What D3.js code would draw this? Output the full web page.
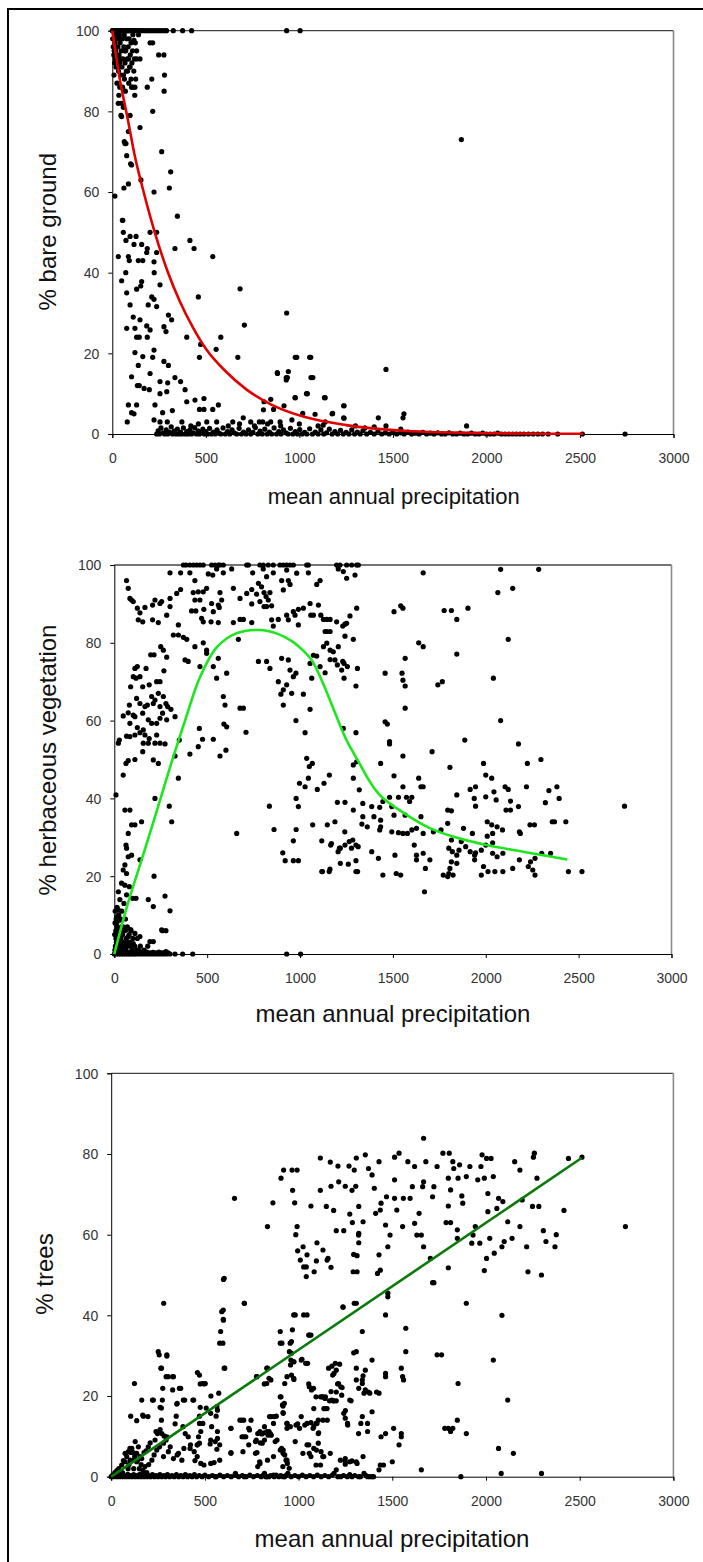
<!DOCTYPE html>
<html><head><meta charset="utf-8">
<script src="https://cdn.jsdelivr.net/npm/d3@7"></script>
<style>html,body{margin:0;padding:0;background:#fff}svg{display:block}</style>
</head><body>
<svg id="c" width="703" height="1562"></svg>
<script>
// ---------- tick labels / titles ----------
const xTicks = [0, 500, 1000, 1500, 2000, 2500, 3000];
const yTicks = [0, 20, 40, 60, 80, 100];
const xTitle = "mean annual precipitation";
const yTitles = ["% bare ground", "% herbaceous vegetation", "% trees"];

// ---------- panel 1: bare ground (precip, %) ----------
const bareTop = [[0,100],[3,100],[6,100],[10,100],[14,100],[18,100],[22,100],[26,100],[30,100],[35,100],[40,100],[45,100],[50,100],[55,100],[60,100],[66,100],[72,100],[78,100],[85,100],[92,100],[100,100],[108,100],[116,100],[125,100],[135,100],[145,100],[155,100],[165,100],[178,100],[190,100],[202,100],[215,100],[228,100],[240,100],[252,100],[265,100],[278,100],[290,100],[326,100],[376,100],[424,100],[932,100],[1004,100]];
const bareCluster = [[2,98],[5,96],[8,94],[12,92],[15,97],[18,95],[20,91],[24,93],[27,98],[30,96],[33,90],[36,94],[40,92],[42,97],[45,89],[48,95],[52,91],[55,98],[58,93],[62,96],[65,88],[68,92],[72,95],[75,90],[80,93],[85,96],[88,87],[92,91],[96,94],[100,88],[105,92],[110,86],[115,90],[120,84],[125,88],[130,93],[9,89],[86,93],[95,91],[116,97.6],[123,97],[130,95],[148,93],[202,97],[216,97],[248,94],[276,94],[279,89],[211,88],[187,86],[103,86],[121,86],[277,85],[216,80],[32,82],[40,86],[50,82],[55,86],[59,81],[46,79],[50,78.7],[95,79],[148,76],[86,75],[64,72.5],[68,72],[73,72],[264,70],[77,69],[98,67],[103,66.7],[312,65],[153,63],[86,62],[62,61],[305,61],[223,60],[14,59],[348,54],[54,53],[25,87],[35,84],[70,85],[60,89],[20,99],[38,99],[64,99],[90,98],[110,99],[140,99],[44,98],[78,98],[100,97],[1866,73],[10,95],[16,93],[28,91],[46,93],[66,95],[82,90],[108,95],[118,93]];
const bareMid = [[56,53],[59,50],[73,48],[95,49],[127,49],[202,50],[237,50],[335,46],[415,48],[437,46],[537,44],[32,44],[86,44],[91,43],[139,43],[163,43],[184,45],[237,45],[223,42.7],[116,47],[157,47],[187,46],[50,38],[72,40],[224,40],[157,37.8],[152,36.7],[130,35.9],[255,37],[460,34],[683,36],[77,35],[211,34],[192,32],[223,33.4],[237,31.6],[300,29.5],[317,28.3],[276,26.6],[287,25.4],[95,32],[112,29],[148,28.3],[184,26.8],[77,26.2],[121,26.2],[202,25.8],[130,24],[144,24],[187,24],[398,24],[706,27],[580,24],[555,21],[671,19],[932,30],[466,19],[472,22.2],[223,20.8],[216,19],[163,19.2],[121,20.2],[139,17],[276,18],[300,17],[202,15],[103,14.2],[335,14],[255,13],[365,13],[296,12.7],[134,12],[144,12],[170,11.3],[198,11],[389,11],[255,10],[291,10.5],[986,19],[1061,19],[1072,14],[941,15.5],[936,14],[883,15],[1043,10],[977,9],[1138,9],[811,8],[847,8.6],[442,8.4],[490,8.8],[398,8],[466,6.1],[490,6.1],[537,6.1],[567,7.2],[86,7.2],[130,7.2],[80,3],[103,5.3],[116,5],[228,7.2],[269,5.3],[321,5.8],[223,3.5],[255,3],[294,3],[372,3],[644,3],[808,6],[862,6.1],[918,7],[1018,5.1],[1084,4.9],[1239,7],[1239,3.9],[1178,5.1],[1138,3],[740,3],[786,3],[804,3],[847,3],[897,3],[558,3],[505,3],[1463,16],[1894,2],[1559,5],[1554,4],[1422,4],[1463,2],[1542,1.2],[1237,7],[1237,4],[1175,5],[1127,2.2],[1134,9],[1062,14],[1055,19],[978,19],[930,14],[930,13.4],[882,15.2],[1038,10],[978,9],[700,4],[760,2],[830,2.5],[900,2],[960,3.5],[1000,2.5],[1100,2],[420,2],[460,2.5],[620,2],[680,2.5],[1300,2],[1350,1.5],[1400,1.8]];
const bareBottom = [[237,0],[245,0.8],[252,0],[260,1.5],[270,0.3],[280,0],[288,1],[296,0],[305,0.5],[315,1.8],[322,0],[330,0.7],[340,0],[348,1.2],[356,0],[365,0.4],[372,0],[380,1.5],[390,0],[398,0.6],[405,0],[415,1],[424,0],[432,0.3],[440,1.6],[450,0],[458,0.8],[466,0],[475,0.4],[484,1.2],[492,0],[500,0.6],[510,0],[520,1.4],[530,0],[540,0.5],[550,0],[560,1],[570,0.2],[580,0],[592,1.5],[604,0],[616,0.6],[628,0],[640,1],[652,0.3],[665,0],[678,1.4],[690,0],[702,0.5],[715,0],[728,1],[740,0],[752,0.4],[765,1.6],[778,0],[790,0.7],[802,0],[815,1.2],[828,0],[840,0.5],[852,0],[865,1.5],[878,0],[890,0.6],[902,0],[915,1],[928,0.3],[940,0],[952,1.4],[965,0],[978,0.6],[990,0],[1002,1.1],[1015,0],[1028,0.4],[1040,0],[1055,1.3],[1070,0],[1085,0.5],[1100,0],[1115,1],[1130,0],[1145,0.3],[1160,1.2],[1175,0],[1190,0.6],[1205,0],[1220,0.9],[1235,0],[1250,0.4],[1265,0],[1280,1],[1295,0],[1310,0.5],[1325,0],[1340,0.8],[1360,0],[1380,0.4],[1400,0],[1420,0.7],[1440,0],[1460,0.3],[1480,0],[1500,0.6],[1520,0],[1540,0.3],[1560,0],[1580,0.5],[1600,0],[1620,0.2],[1640,0],[1660,0.4],[1680,0],[1700,0.2],[1720,0],[1740,0.3],[1760,0],[1780,0],[1800,0.3],[1820,0],[1840,0],[1860,0.2],[1880,0],[1900,0],[1920,0.2],[1940,0],[1960,0],[1980,0.2],[2000,0],[2020,0],[2040,0],[2060,0.2],[2080,0],[2100,0],[2120,0],[2140,0],[2160,0],[2180,0],[2200,0],[2225,0],[2250,0],[2275,0],[2300,0],[2330,0],[2381,0],[2513,0],[2741,0]];
const bareFit = [[0,100],[40,88],[83,78],[120,69],[162,61],[227,50],[298,40],[360,33],[430,26.5],[502,21],[600,15.8],[718,11],[850,7.3],[1030,4.2],[1250,2.2],[1557,0.8],[2000,0.2],[2516,0.05]];

// ---------- panel 2: herbaceous vegetation ----------
const herbTop = [[372,100],[386,100],[407,100],[425,100],[443,100],[461,100],[479,100],[524,100],[542,100],[560,100],[569,100],[587,100],[713,100],[784,100],[802,100],[829,100],[856,100],[892,100],[910,100],[928,100],[946,100],[964,100],[1036,100],[1045,100],[1197,100],[1215,100],[1251,100],[1278,100],[1305,100],[1314,100]];
const herbUpper = [[66,96],[300,98],[357,98],[407,98],[434,96],[506,97.7],[530,97.4],[551,99],[587,98],[632,99],[722,100],[745,98],[802,99],[820,97],[856,98],[901,96],[928,98.7],[937,96],[910,93.6],[946,95],[982,97.9],[1045,98],[1108,96],[1090,95],[1206,99],[1233,98.3],[1251,96.6],[1296,97.4],[776,95.3],[793,94.4],[806,92.9],[817,91.9],[838,92.9],[829,91],[847,89.5],[820,89.3],[784,90.6],[766,92.5],[740,90],[806,89.3],[713,92.7],[740,93.7],[677,91.4],[641,94],[569,92.9],[578,91],[560,89.7],[524,90.1],[497,94],[479,93.1],[452,93.1],[425,92.9],[461,91],[434,91],[416,88.2],[439,88.2],[482,88.6],[533,88],[565,89.1],[470,86.3],[479,85.4],[521,85.4],[560,85.2],[641,85.2],[677,86],[695,86],[740,85.2],[847,85.9],[883,86],[856,84.3],[928,87.1],[937,85.9],[964,88],[991,88.6],[991,84.6],[973,87.1],[1018,88.9],[1054,90.1],[1058,87.1],[1072,87.1],[1099,89.7],[1112,87.1],[1126,86],[1144,86],[1162,86],[1135,82.9],[1144,82.9],[1162,82.9],[1197,85.4],[1230,84.3],[1242,84.8],[1269,86.9],[1305,88.9],[1287,80.9],[246,90.1],[255,90.6],[206,89.7],[219,91],[300,91.4],[300,89.3],[336,92.7],[357,93.7],[124,88.9],[138,87.7],[165,89.1],[129,85.9],[153,85.4],[206,85.9],[237,85.2],[282,87.1],[345,84.6],[318,82],[345,82],[372,81.4],[390,80.9],[434,79],[479,80],[497,78.1],[497,77.3],[381,75.6],[398,75.2],[461,73.9],[533,73.9],[560,76],[551,70.9],[605,72.2],[75,94],[84,91.4],[93,91],[102,90.6],[668,80.9],[776,75.2],[820,75.2],[838,73.4],[901,76],[937,75.6],[946,73],[964,71.3],[978,72.2],[883,70],[928,69.2],[910,67.9],[897,66.8],[955,67],[1018,66.8],[910,64],[1054,62.9],[587,66.2],[596,64],[677,63.2],[695,63.2],[709,57],[590,59.1],[605,58.4],[978,60],[1027,56.9],[1063,70.9],[1054,74.7],[1090,76.6],[1072,76.8],[1108,73.9],[1135,72.3],[1201,74.3],[1224,73],[1237,70.9],[1301,68.9],[1251,85],[1242,81.7],[1179,77.7],[1188,75.6],[1162,75.7],[1126,79],[1144,79.9],[1162,78.1],[1206,79],[1230,75.2],[1237,74.7],[1255,73.9],[1309,73.4],[1036,50.3],[1050,48.2],[1066,49],[1233,58],[1301,56.9],[1305,49.4],[1287,48.6],[569,50.9],[407,51.4],[452,53.3],[475,55.2],[533,55.2],[350,55],[458,58],[601,52.4]];
const herbLeft = [[27,55],[48,61.2],[75,62],[84,59.3],[102,61.4],[81,64],[88,68.7],[102,71.3],[117,70.9],[138,71.3],[153,68.7],[188,69.2],[111,73.4],[124,73.9],[171,73.4],[196,76.9],[214,76.9],[250,79],[264,78.1],[282,76.3],[267,72.8],[228,70],[246,70],[201,66.2],[219,65.3],[237,67],[264,66.2],[278,64.4],[287,63.6],[305,62.9],[327,61],[260,61.9],[246,63.6],[210,64.4],[178,64],[165,63.6],[138,64.4],[120,65.7],[153,61.9],[183,60.2],[201,59.3],[228,59.3],[246,60.6],[282,60.2],[156,57.6],[138,56.9],[165,56.3],[188,55.4],[228,56.3],[219,54.2],[183,54.2],[156,54.2],[111,56.3],[84,55.9],[66,56],[124,58.2],[111,61],[246,54.2],[273,54],[75,49.7],[63,49],[111,50],[153,52],[210,49.9],[237,49],[327,50.9],[22,54.2],[48,46],[9,40.9],[57,37],[84,37],[75,31],[93,33.2],[111,33.2],[147,34],[219,40],[296,38],[309,34],[345,45.2],[63,28],[66,27.2],[75,25],[93,25.4],[138,24.2],[57,22.9],[48,21.6],[66,20.7],[39,18.2],[57,17.7],[81,17.3],[214,20],[22,16],[66,15.2],[99,14.3],[117,14.3],[183,14],[273,14.9],[210,12.2],[300,11.1],[260,6],[278,6],[255,6.2],[192,3.2],[210,3.2],[138,4.5],[124,4],[111,5.3],[22,11.3],[13,9.6],[31,8.7],[48,7],[63,6.2],[88,6.3],[13,8],[27,6.2],[9,4],[75,4.5],[66,2.7],[102,2.7],[120,1],[928,0],[1003,0],[327,0],[368,0],[422,0],[278,0.6],[2,5],[4,8],[5,11],[6,2],[8,6],[10,9],[12,3],[14,7],[15,12],[18,1],[20,5],[24,10],[26,3],[28,6],[30,14],[32,2],[34,9],[36,4],[38,7],[40,11],[42,1],[45,5],[50,3],[52,13],[55,6],[58,2],[60,9],[65,4],[70,7],[75,2],[80,5],[85,3],[90,6],[95,1],[100,4],[110,2],[130,1],[140,2],[160,1],[180,2],[3,1],[16,3],[44,2],[62,1],[78,3],[92,2]];
const herbBottom = [[0,0],[6,0.4],[12,0],[18,0.6],[24,0],[30,0.3],[36,0],[42,0.5],[48,0],[54,0.4],[60,0],[66,0.6],[72,0],[78,0.3],[84,0],[90,0.5],[96,0],[102,0.3],[108,0],[114,0.5],[120,0],[128,0.4],[136,0],[144,0.5],[152,0],[160,0.3],[168,0],[176,0.5],[184,0],[192,0.3],[200,0],[208,0.4],[216,0],[224,0.3],[232,0],[240,0.5],[248,0],[256,0.3],[264,0],[272,0.4],[280,0],[290,0.3],[300,0]];
const herbRight = [[659,31],[835,38],[860,32],[907,26],[920,24],[964,24],[991,24],[964,29.1],[979,32],[979,40],[991,37.9],[997,43.9],[1027,43],[1045,45.2],[1093,42.3],[1129,43.9],[1158,46],[1068,33.2],[1117,29.1],[1147,33.2],[1165,28],[1188,34],[1212,27.2],[1242,28],[1260,23.1],[1284,29.3],[1301,28],[1301,24],[1310,21.2],[1161,21.8],[1117,21.2],[1201,39],[1242,39],[1287,37],[1287,45.2],[1319,42.2],[2080,98.9],[2285,98.9],[1663,98],[2065,92.9],[2145,94],[2121,80.9],[1542,89.5],[1554,88.9],[1506,88],[1776,88.3],[1815,88.3],[1844,86],[1904,88.9],[1639,80],[1663,79],[1844,77.1],[1566,76],[1742,69.2],[1766,70],[2041,70.9],[2080,60],[1458,72.2],[1549,72.2],[1554,70.4],[1566,68.9],[1566,63.2],[1458,59.7],[1470,59.1],[1482,54.6],[1482,54],[1887,55],[2176,54],[1711,52],[1807,48],[1988,49],[2224,49],[2297,50],[1554,50.9],[1434,49],[1506,45.8],[2000,46],[2032,45.2],[1554,43],[1651,43],[1639,45.2],[1663,43],[1916,42.3],[1945,43],[2104,43],[2121,42.3],[2219,43],[2340,42],[2383,43],[2395,40],[2000,40.4],[1938,40],[1945,38],[1844,40.9],[2044,41.7],[2056,39.6],[2133,39.3],[2321,38.9],[2176,37.9],[2109,37],[1795,37],[1815,36.8],[1573,40.3],[1602,40.3],[1482,40.3],[1530,40.3],[1446,39.2],[1494,37.9],[1506,35.7],[1566,35.7],[1590,39.2],[1651,35.3],[1429,37.7],[1434,34.4],[1434,32.7],[1429,31.9],[1338,38.7],[1386,37.9],[1398,35.3],[1338,35.3],[1333,33.4],[1362,32.7],[1494,31.4],[1530,31.2],[1554,31],[1578,31],[1602,31.9],[1627,32.3],[1663,31],[1718,31.4],[1759,31.9],[1795,33.6],[1880,32.3],[1928,31],[2008,34],[2032,33.2],[2061,32.7],[2090,31.9],[2037,31],[2238,33.2],[2262,33.2],[2370,34],[2186,31],[2008,30.3],[2000,28],[2037,28.6],[1868,28.9],[1892,27.6],[1916,26.3],[1856,26.7],[1976,26.7],[1945,26],[1815,29.3],[1801,27.2],[1820,26.3],[1844,25.4],[1815,23.7],[1844,23.3],[1807,22],[1824,20.3],[1771,20.3],[1801,20.7],[1699,24.2],[1675,22],[1627,24.2],[1627,25.4],[1615,28],[1663,25.9],[1670,16],[1511,25.4],[1518,20.7],[1542,20.3],[1446,20.3],[1422,24.6],[1386,26.3],[1313,27.6],[1301,21.2],[1265,28.9],[1241,31.4],[1205,26.3],[1217,23.3],[1169,28.4],[1121,21.2],[1157,21.2],[1217,27.2],[1277,27.2],[2037,25.9],[2061,25],[2092,25.9],[2049,21.2],[2012,21.2],[1976,20.3],[1988,22.5],[2092,21.2],[2145,22],[2181,24.2],[2229,22.5],[2253,21.6],[2265,20.3],[2265,24.6],[2241,23.7],[2445,21.2],[2518,21.2],[2358,34],[2431,34],[2747,38],[2181,31.4],[2133,37],[1795,19.9],[1940,24.2],[1940,25.4],[2301,25.9],[2349,25.9]];
const herbFit = [[0,0],[67,12],[147,24.2],[230,37],[300,48],[381,60],[460,71],[551,78.8],[650,82.3],[781,83.3],[880,82.3],[960,80.3],[1010,78.3],[1063,75.5],[1120,70],[1197,61],[1250,55],[1314,49.5],[1380,44],[1437,40.5],[1557,36.3],[1702,32.3],[1850,29.8],[2004,28],[2200,26.3],[2439,24.3]];

// ---------- panel 3: trees ----------
const treeUpper = [[658,69],[834,62],[863,67.9],[906,74],[920,76],[965,76],[992,76],[968,71],[979,67.9],[992,62],[985,60],[995,56],[1024,57],[1045,55],[1066,67.1],[1098,58],[1116,71],[1116,79],[1148,67],[1169,78],[1173,72],[1187,66],[1210,77],[1214,73.1],[1201,61],[1241,61],[1249,72],[1269,77],[1273,65.1],[1285,71],[1287,63],[1297,76],[1308,79],[1305,72],[1312,54.8],[1294,55.1],[1321,67],[1321,60.3],[1321,58],[1130,56.2],[1157,54.1],[1667,83.9],[2153,78.1],[2253,79.2],[2258,80.2],[2440,78.9],[2512,79.2],[2744,62],[2416,66],[2375,60],[2368,57],[2320,58.3],[2306,61],[2296,50],[2224,50.8],[2217,57],[2181,62],[2181,76],[2193,68.6],[2272,74],[2248,67],[2282,67],[2139,59.1],[2116,63.2],[2097,58.3],[2090,68.2],[2085,57],[2067,69],[2058,66.5],[2044,55.4],[2027,78.9],[2039,74.4],[2003,78.9],[2010,70.2],[1991,74],[1979,79.8],[1973,76.9],[1956,73.6],[2010,65.7],[2020,59.1],[2003,54.1],[1991,51.1],[1967,57.9],[1943,62],[1931,59.9],[1924,57.9],[1914,76.9],[1895,74.4],[1859,77.3],[1851,74],[1871,69.6],[1876,67.8],[1847,61.2],[1847,59.1],[1828,76.4],[1823,78.1],[1804,80.2],[1770,80.2],[1799,74],[1811,71.1],[1799,67.1],[1787,63],[1811,63],[1799,51.8],[1739,76.9],[1722,71.9],[1715,69.4],[1703,54.1],[1715,48.1],[1679,78.1],[1667,73.1],[1662,71.9],[1643,65.3],[1655,59.9],[1667,57],[1619,76.9],[1607,71.9],[1595,69],[1619,62.8],[1631,59.9],[1583,78.1],[1559,69],[1555,62],[1512,69],[1524,66.1],[1488,59.9],[1476,57],[1512,73.6],[1469,69.4],[1464,62.4],[1440,67.8],[1436,66.1],[1429,55],[1436,51.2],[1421,50.4],[1429,78.1],[1404,71.5],[1392,74.8],[1411,65.3],[1356,79.8],[1373,76.4],[1344,63.2],[1320,59.9],[1536,80.2],[1512,79.2]];
const treeMid = [[2296,0.8],[2081,0.8],[1866,0],[1655,1.7],[2146,5.8],[2067,7],[2116,19],[2085,40],[1895,43],[2039,28.9],[1851,23.1],[1847,14],[1799,12],[1780,12],[1823,12],[1811,11.2],[1895,10.7],[1739,30.2],[1763,30.2],[1722,48.1],[1572,36.8],[1572,31],[1548,26.9],[1555,24.8],[1560,24],[1464,25.6],[1464,24.8],[1476,45.5],[1476,44.6],[1464,40.1],[1392,28.9],[1416,21],[1429,20.7],[1356,21.5],[1373,21],[1349,20.7],[1340,23.1],[1340,24],[1344,25],[1356,26.4],[1392,16.1],[1380,20.7],[1340,14.9],[1368,13.2],[1368,11.2],[1332,13.2],[1340,36],[1308,26.9],[1320,10.7],[1440,9.9],[1464,10.7],[1507,12],[1548,10.7],[1548,9.9],[1536,7.9],[1500,3.7],[1453,2.9],[1429,1.7],[1436,2.9],[1344,5],[1308,3.7],[1273,3.7],[1249,3.7],[1285,0],[1225,0],[1273,0.5],[1320,0],[1368,0],[1392,0],[1349,0.8],[1201,1.7],[1189,0.8],[1297,43],[1308,31],[1308,24],[1273,19],[1261,13.2],[1249,14.5],[1225,22.3],[1213,23.1],[1230,20.2],[1237,42.1],[1201,26.4],[1189,25.6],[1182,25.2],[1201,21],[1189,18.8],[1165,18.8],[1177,19],[1129,19.8],[1141,16.9],[1153,14],[1141,19.4],[1093,19.8],[1117,19.8],[1081,16.9],[1105,14],[1093,13.2],[1081,12.4],[1057,22.3],[1069,21.5],[1105,10.7],[1105,8.3],[1093,2.9],[1117,2.9],[1129,5],[1081,7],[1057,5.8],[1045,7.9],[1033,12.8],[1038,28.1],[1014,28.9],[1014,14.9],[1005,12],[986,12.8],[974,24.4],[962,25.2],[967,36.4],[962,33.5],[974,40.1],[1045,40.1],[1057,35.1],[962,30.6],[974,28.5],[957,27.7],[926,23.1],[902,33.1],[902,36],[950,2.1],[940,3.3],[916,2.5],[918,6.6],[909,7],[926,5.4],[933,4.1],[943,0.8],[918,0],[902,19.8],[914,17.8],[918,15.7],[938,13.2],[938,12],[885,9.1],[854,10.3],[854,14.9],[869,14.9],[866,13.2],[837,10.3],[842,11.2],[818,12.4],[818,9.1],[830,26.9],[842,24.4],[830,23.1],[775,24.8],[794,11.2],[782,10.7],[770,8.7],[770,5.8],[806,8.3],[794,3.3],[782,2.5],[818,0.8],[842,0],[866,0.4],[830,0],[746,14],[734,12],[734,7.9],[718,9.9],[687,14],[698,9.9],[710,43],[639,12],[639,5.8],[663,0.8],[710,0],[603,49.2],[598,41.3],[598,39],[584,36],[579,33.1],[603,26.9],[574,20.7],[567,16.5],[567,11.2],[567,9.5],[579,7.9],[579,4.1],[555,0],[531,15.7],[536,12.4],[531,9.1],[531,3.3],[507,17],[488,23.1],[502,23.1],[471,25.2],[471,13.2],[478,11.2],[459,7.9],[471,8.3],[478,3.3],[495,2.9],[459,5],[440,19],[423,7.9],[411,9.9],[392,19],[388,7],[383,12.4],[364,21.9],[352,18.2],[352,5.4],[328,24.8],[304,24.8],[297,9.9],[273,19],[268,14],[280,43],[256,30.2],[268,17],[239,11.2],[220,19],[196,14.9],[168,15.3],[124,23.1],[297,30.2],[268,26.9],[328,21.5],[251,31],[297,29.9],[265,26.9],[293,24.8],[332,24.8],[275,21.9],[371,21.9],[385,19],[163,19],[225,19],[261,17.2],[104,15],[136,13.9],[172,15],[350,18],[347,15],[341,13.1],[436,19],[460,25.8],[475,23],[496,23],[532,20],[475,17.2],[489,13.2],[471,15],[564,17.4],[560,15],[590,40.9],[599,38.8],[596,33.1],[606,26.9],[599,48.9],[711,43],[639,12],[697,14],[707,14],[738,11.6],[709,9.9],[778,24.8],[817,23],[834,26.9],[852,24],[845,14.9],[881,15],[906,19.8],[917,17.5],[924,18.2],[917,15.9],[911,33.1],[955,33.1],[951,31],[959,28.9],[975,24.1],[938,24.8],[975,28.5],[1018,29.1],[1048,28.1],[982,40.1],[1027,40.1],[1041,49.6],[1083,50.8],[1041,52],[1054,35.1],[1066,35.1],[1054,23],[1080,21.9],[995,13.1],[938,13.2],[956,12.4],[1045,13.2],[1066,13.4],[1098,13.2],[1130,14],[1107,10.9],[1077,12],[1160,26.9],[1178,27.4],[1196,28.1],[1219,27.9],[1125,19.8],[1143,19.8],[1152,16.9],[1135,16.9],[1173,21.1],[1184,18.8],[1201,18.8],[1208,23],[1232,22.1],[1241,15.7],[1250,16.4],[1262,12.8],[1280,18.8],[1294,30.7],[1321,21.9],[1237,42],[1291,50.8],[1312,50.8],[1308,43],[1173,51.9],[1009,53.7],[1027,52],[1095,53.5],[1152,53.7]];
const treeLow = [[74,5.8],[83,5],[92,6.2],[110,7],[128,8.7],[136,5.8],[145,7.4],[154,5],[101,4.1],[74,3.7],[56,2.9],[136,3.7],[163,4.5],[186,6.4],[198,7.4],[208,8.4],[234,9.1],[247,10.7],[261,11.7],[270,10.7],[282,10.1],[293,9.1],[279,8.3],[258,7.4],[243,6.6],[229,5.4],[217,4.1],[279,5],[305,6.2],[315,7.4],[332,4.5],[359,5.8],[377,4.1],[395,10.7],[421,7],[443,6.2],[460,7.9],[466,9.9],[447,4],[528,8.1],[555,8.7],[564,6.8],[549,3.5],[639,6],[703,6.2],[778,6],[804,10.6],[817,10.9],[831,11.2],[849,10.7],[875,8.7],[795,8.4],[774,9.1],[792,3.7],[834,4.1],[866,5],[902,6.6],[917,5.8],[938,4.1],[982,8.7],[1023,5.8],[1054,7.9],[1066,5],[1095,6.6],[1120,6.2],[1134,5],[1169,5.8],[1223,4.1],[1249,3.1],[1285,3.9],[1312,3.3],[1249,4.5],[60,1],[65,4],[90,2],[95,3],[105,6],[115,4],[120,2],[125,5],[150,2],[160,3],[170,1.5],[180,2.5],[190,1],[30,1.5],[40,2],[20,1],[45,0.5],[100,7],[118,6],[140,4],[175,6],[200,3]];
const treeBottom = [[0,0],[8,0.4],[16,0],[24,0.5],[32,0],[40,0.3],[48,0],[56,0.5],[64,0],[72,0.3],[80,0],[88,0.6],[96,0],[104,0.3],[112,0],[120,0.5],[128,0],[136,0.3],[144,0],[152,0.6],[160,0],[168,0.3],[176,0],[184,0.5],[192,0],[200,0.3],[210,0],[220,0.5],[230,0],[240,0.3],[250,0],[260,0.5],[270,0],[280,0.3],[290,0],[300,0.5],[312,0],[324,0.3],[336,0],[348,0.5],[360,0],[372,0.3],[384,0],[396,0.5],[408,0],[420,0.3],[432,0],[444,0.5],[456,0],[470,0.3],[485,0],[500,0.4],[520,0],[540,0.3],[560,0],[580,0.4],[600,0],[620,0.3],[640,0],[660,0.4],[680,0],[700,0.3],[720,0],[740,0.4],[760,0],[780,0.3],[800,0],[812,0.4],[825,0],[850,0.3],[870,0],[880,0.4],[895,0],[905,0.3],[925,0],[935,0.4],[960,0],[980,0.3],[1000,0],[1020,0.4],[1040,0],[1060,0.3],[1080,0],[1100,0.4],[1120,0],[1140,0.3],[1160,0],[1180,0.4],[1210,0],[1240,0.3],[1260,0],[1300,0.3],[1330,0],[1360,0.3],[1380,0],[1400,0]];
const treeFit = [[0,0],[2510,79]];

// ---------- drawing ----------
const svg = d3.select("#c");
svg.append("path").attr("d","M8,1562 L8,9 L703,9").attr("fill","none").attr("stroke","#000").attr("stroke-width",2);

const panels = [
  {x0:112.3,x1:673.5,yb:434,yt:30.7,title:yTitles[0],tx:48,txy:231.7,xt:393.7,xty:496.7,xfs:22,
   series:[bareTop,bareCluster,bareMid,bareBottom],fit:bareFit,color:"#e00000",curve:d3.curveMonotoneX},
  {x0:114.3,x1:671.5,yb:954,yt:565,title:yTitles[1],tx:48,txy:760,xt:393,xty:1014,xfs:24,
   series:[herbTop,herbUpper,herbLeft,herbBottom,herbRight],fit:herbFit,color:"#1ee61e",curve:d3.curveCatmullRom},
  {x0:111.2,x1:673.4,yb:1476.7,yt:1073.3,title:yTitles[2],tx:45,txy:1274,xt:392,xty:1539,xfs:24,
   series:[treeUpper,treeMid,treeLow,treeBottom],fit:treeFit,color:"#0a7a0a",curve:d3.curveLinear}
];

panels.forEach(p=>{
  const x = d3.scaleLinear().domain([0,3000]).range([p.x0,p.x1]);
  const y = d3.scaleLinear().domain([0,100]).range([p.yb,p.yt]);
  const g = svg.append("g");
  g.append("line").attr("x1",p.x0).attr("x2",p.x1).attr("y1",p.yt).attr("y2",p.yt).attr("stroke","#444").attr("stroke-width",1.3);
  g.append("line").attr("x1",p.x1).attr("x2",p.x1).attr("y1",p.yt).attr("y2",p.yb).attr("stroke","#8a8a8a").attr("stroke-width",1.6);
  const ya = g.append("g").attr("transform",`translate(${p.x0},0)`)
    .call(d3.axisLeft(y).tickValues(yTicks).tickSize(4).tickFormat(d3.format("d")));
  ya.select(".domain").attr("stroke","#000");
  ya.selectAll(".tick line").attr("stroke","#000");
  ya.selectAll("text").attr("x",-13).attr("dy","0.35em").attr("font-family","'Liberation Sans',Arial,sans-serif").attr("font-size",14).attr("fill","#333");
  const xa = g.append("g").attr("transform",`translate(0,${p.yb})`)
    .call(d3.axisBottom(x).tickValues(xTicks).tickSize(4).tickFormat(d3.format("d")));
  xa.select(".domain").attr("stroke","#000");
  xa.selectAll(".tick line").attr("stroke","#000");
  xa.selectAll("text").attr("y",24).attr("dy","0.35em").attr("font-family","'Liberation Sans',Arial,sans-serif").attr("font-size",14).attr("fill","#333");
  const pts = [].concat(...p.series);
  g.append("g").selectAll("circle").data(pts).join("circle")
    .attr("cx",d=>x(d[0])).attr("cy",d=>y(d[1])).attr("r",2.6).attr("fill","#000");
  g.append("path").datum(p.fit).attr("fill","none").attr("stroke",p.color).attr("stroke-width",2.6)
    .attr("d",d3.line().x(d=>x(d[0])).y(d=>y(d[1])).curve(p.curve));
  g.append("text").attr("transform",`translate(${p.tx},${p.txy}) rotate(-90)`).attr("text-anchor","middle").attr("dy","0.35em")
    .attr("font-family","'Liberation Sans',Arial,sans-serif").attr("font-size",24).attr("fill","#111").text(p.title);
  g.append("text").attr("x",p.xt).attr("y",p.xty).attr("text-anchor","middle").attr("dy","0.35em")
    .attr("font-family","'Liberation Sans',Arial,sans-serif").attr("font-size",p.xfs).attr("fill","#111").text(xTitle);
});
</script>
</body></html>
